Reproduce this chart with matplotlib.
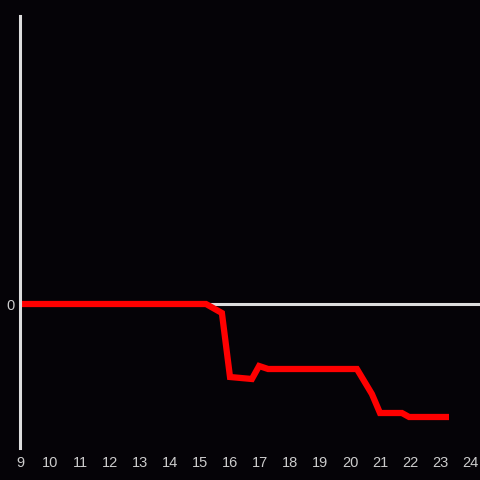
import matplotlib.pyplot as plt

# hour of day vs value (0 = baseline)
hours = [9.0, 15.2, 15.73, 16.0, 16.73, 16.97, 17.27, 20.23, 20.73, 21.0, 21.73, 21.97, 23.3]
values = [0, 0, -9, -73, -75, -62, -65, -65, -90, -109, -109, -113, -113]
xticks = list(range(9, 25))

bg = '#050307'
fig = plt.figure(figsize=(4.8, 4.8), dpi=100, facecolor=bg)
ax = fig.add_axes([20/480, 32/480, 460/480, 432/480], facecolor=bg)

ax.axhline(0, color='#dddddd', lw=2.2, zorder=1)
ax.plot(hours, values, color='#ff0000', lw=4.5, solid_joinstyle='miter', solid_capstyle='butt', zorder=2)

ax.set_xlim(9, 24.333)
ax.set_ylim(-144, 288)
ax.set_xticks(xticks)
ax.set_xticklabels([str(t) for t in xticks])
ax.set_yticks([0])
ax.set_yticklabels(['0'])

for s in ['top', 'right', 'bottom']:
    ax.spines[s].set_visible(False)
ax.spines['left'].set_color('#dddddd')
ax.spines['left'].set_linewidth(2.2)

ax.tick_params(axis='both', length=0, colors='#cccccc', labelsize=10.5)
ax.tick_params(axis='x', pad=6)
ax.tick_params(axis='y', pad=4)
for lab in ax.get_xticklabels() + ax.get_yticklabels():
    lab.set_family('Liberation Sans')

fig.savefig('out.png', dpi=100, facecolor=bg)
